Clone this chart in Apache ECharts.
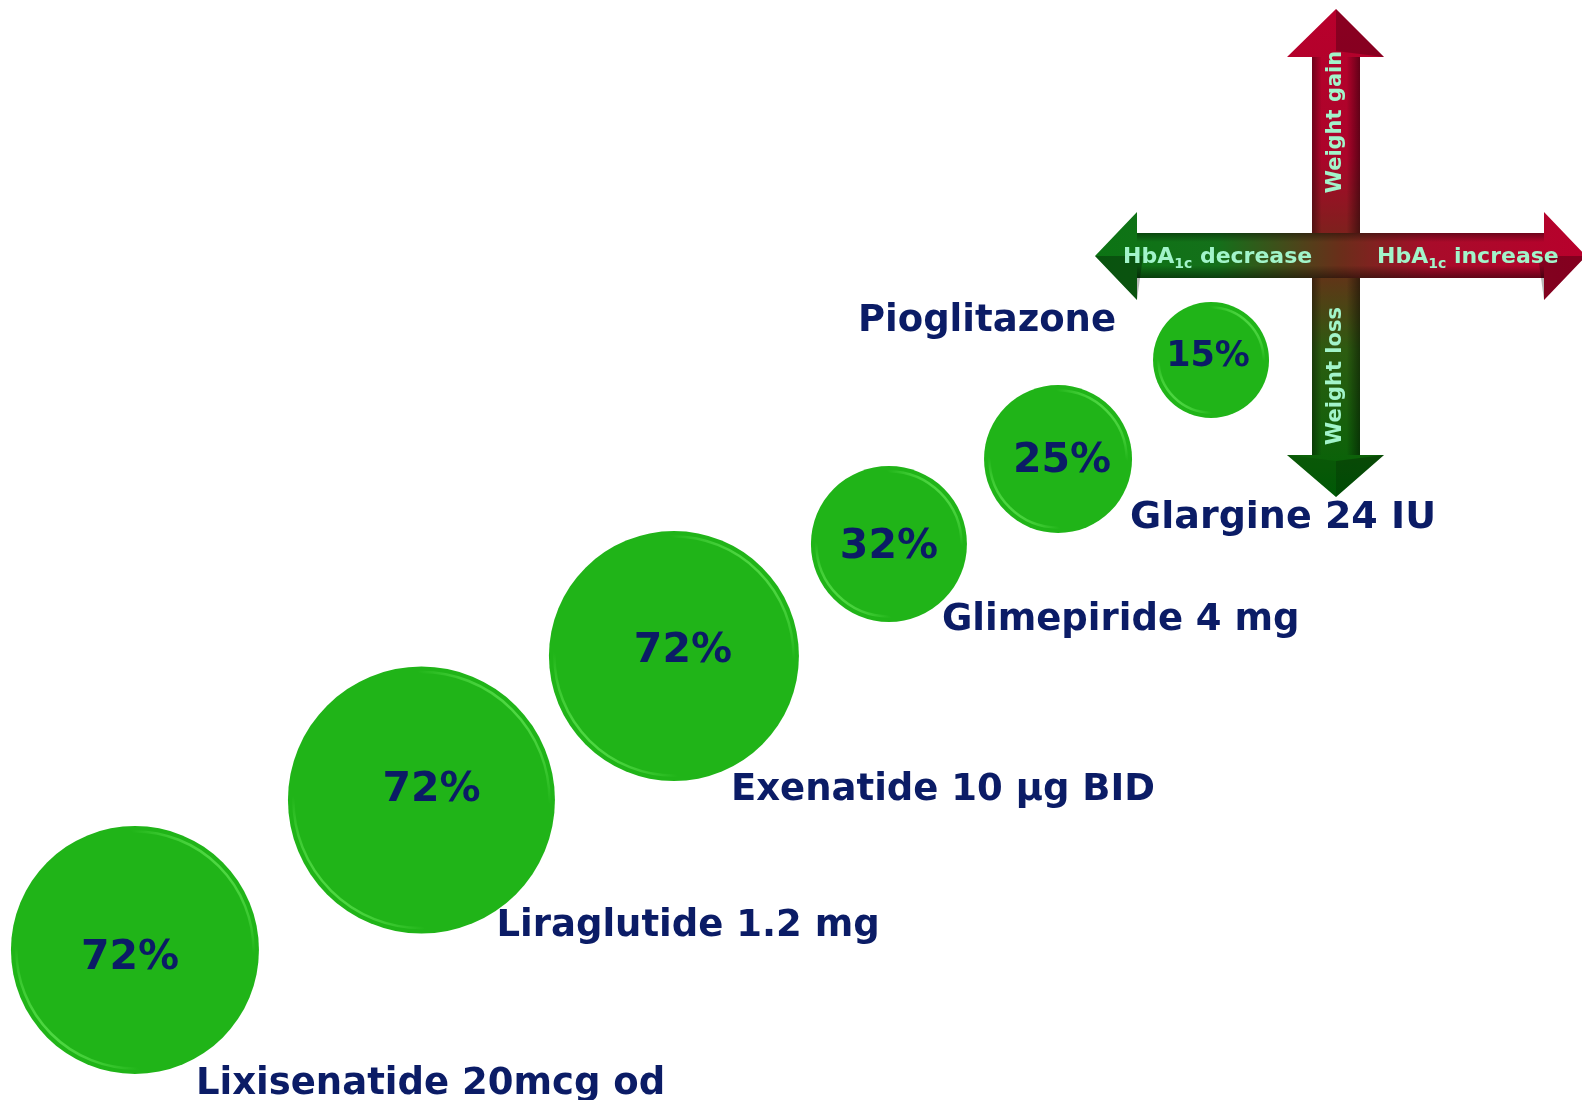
<!DOCTYPE html>
<html>
<head>
<meta charset="utf-8">
<title>Proportion of patients reaching target</title>
<script src="https://cdn.jsdelivr.net/npm/echarts@6/dist/echarts.min.js"></script>
<style>
  html, body { margin: 0; padding: 0; background: #ffffff; }
  #chart { width: 1582px; height: 1100px; }
</style>
</head>
<body>
<div id="chart"></div>
<script>
// Treatments, from largest effect (bottom-left) to smallest (top-right)
const treatments = ['Lixisenatide 20mcg od', 'Liraglutide 1.2 mg', 'Exenatide 10 µg BID',
                    'Glimepiride 4 mg', 'Glargine 24 IU', 'Pioglitazone'];
// Percentage shown inside each bubble
const percentValues = [72, 72, 72, 32, 25, 15];
// Bubble placement along the diagonal (axis units, 0-100)
const xPosition = [8.53, 26.64, 42.60, 56.19, 66.88, 76.55];
const yPosition = [13.64, 27.27, 40.36, 50.55, 58.27, 67.27];
// Bubble diameters
const bubbleSize = [248, 267, 250, 156, 148, 116];

// Label placement (pixels relative to bubble centre) and text sizes
const nameOffset = [[61, 134], [75, 126], [57, 134], [53, 76], [72, 59], [-95, -39]];
const nameAlign  = ['left', 'left', 'left', 'left', 'left', 'right'];
const nameFont   = [37, 37, 37, 37, 38, 37];
const pctOffset  = [[-5, 8], [10, -10], [9, -5], [0, 3], [4, 2], [-3, -3]];
const pctFont    = [41, 41, 41, 41, 41, 35];

const NAVY = '#0b1c66';
const MINT = '#a2f4ca';
const FONT = '"DejaVu Sans", Verdana, sans-serif';

// light bevel highlight on the upper-right and lower-left of each bubble
const rimStroke = {
  type: 'linear', x: 1, y: 0, x2: 0, y2: 1,
  colorStops: [
    { offset: 0.1, color: 'rgba(110,240,95,0.85)' },
    { offset: 0.26, color: 'rgba(110,240,95,0)' },
    { offset: 0.74, color: 'rgba(110,240,95,0)' },
    { offset: 0.9, color: 'rgba(110,240,95,0.85)' }
  ]
};

const bubbleData = treatments.map((name, i) => ({
  name: name,
  value: [xPosition[i], yPosition[i], bubbleSize[i], percentValues[i]],
  label: { offset: pctOffset[i], fontSize: pctFont[i] }
}));
const rimData = treatments.map((name, i) => ({
  name: name,
  value: [xPosition[i], yPosition[i], bubbleSize[i]]
}));
const nameData = treatments.map((name, i) => ({
  name: name,
  value: [xPosition[i], yPosition[i]],
  label: { offset: nameOffset[i], align: nameAlign[i], fontSize: nameFont[i] }
}));

// ---- Arrow cross (legend of directions) ----
const H = { tipL: 1095, baseL: 1137, baseR: 1544, tipR: 1586, cy: 256, shaftT: 233, shaftB: 278, headT: 212, headB: 300 };
const V = { tipT: 9, baseT: 57, baseB: 455, tipB: 497, cx: 1336, shaftL: 1312, shaftR: 1360, headL: 1287, headR: 1384 };

function hGrad() {
  return { type: 'linear', global: true, x: H.tipL, y: 0, x2: H.tipR, y2: 0,
    colorStops: [
      { offset: 0, color: '#0c7414' }, { offset: 0.25, color: '#14701a' },
      { offset: 0.5, color: '#6a2e1a' }, { offset: 0.68, color: '#a80c2a' },
      { offset: 1, color: '#b8002c' }
    ] };
}
function vGrad() {
  return { type: 'linear', global: true, x: 0, y: V.tipT, x2: 0, y2: V.tipB,
    colorStops: [
      { offset: 0, color: '#b8002c' }, { offset: 0.3, color: '#ac042a' },
      { offset: 0.5, color: '#72281a' }, { offset: 0.7, color: '#2c5c10' },
      { offset: 1, color: '#006406' }
    ] };
}
function edgeShade(horizontal, a, b) {
  return { type: 'linear', global: true,
    x: horizontal ? 0 : a, y: horizontal ? a : 0, x2: horizontal ? 0 : b, y2: horizontal ? b : 0,
    colorStops: [
      { offset: 0, color: 'rgba(0,0,0,0.38)' }, { offset: 0.2, color: 'rgba(0,0,0,0)' },
      { offset: 0.72, color: 'rgba(0,0,0,0)' }, { offset: 1, color: 'rgba(0,0,0,0.45)' }
    ] };
}

const captionRich = {
  a: { fill: MINT, fontSize: 22, fontWeight: 'bold', fontFamily: FONT, lineHeight: 28, verticalAlign: 'middle' },
  s: { fill: MINT, fontSize: 14, fontWeight: 'bold', fontFamily: FONT, lineHeight: 28, verticalAlign: 'bottom' }
};

const arrowGraphics = [
  // vertical arrow
  { type: 'polygon', z: 10, silent: true,
    shape: { points: [[V.cx, V.tipT], [V.headR, V.baseT], [V.shaftR, V.baseT], [V.shaftR, V.baseB],
                      [V.headR, V.baseB], [V.cx, V.tipB], [V.headL, V.baseB], [V.shaftL, V.baseB],
                      [V.shaftL, V.baseT], [V.headL, V.baseT]] },
    style: { fill: vGrad() } },
  { type: 'rect', z: 11, silent: true,
    shape: { x: V.shaftL, y: V.baseT, width: V.shaftR - V.shaftL, height: V.baseB - V.baseT },
    style: { fill: edgeShade(false, V.shaftL, V.shaftR) } },
  // head facets (darker right-hand side)
  { type: 'polygon', z: 11, silent: true,
    shape: { points: [[V.cx, V.tipT], [V.headR, V.baseT], [V.cx, V.baseT - 6]] },
    style: { fill: 'rgba(0,0,0,0.25)' } },
  { type: 'polygon', z: 11, silent: true,
    shape: { points: [[V.cx, V.tipB], [V.headR, V.baseB], [V.cx, V.baseB + 6]] },
    style: { fill: 'rgba(0,0,0,0.25)' } },
  { type: 'polygon', z: 11, silent: true,
    shape: { points: [[V.cx, V.tipB], [V.headL, V.baseB], [V.cx, V.baseB + 6]] },
    style: { fill: 'rgba(0,0,0,0.1)' } },

  // horizontal arrow (drawn above the vertical one)
  { type: 'polygon', z: 12, silent: true,
    shape: { points: [[H.tipL, H.cy], [H.baseL, H.headT], [H.baseL, H.shaftT], [H.baseR, H.shaftT],
                      [H.baseR, H.headT], [H.tipR, H.cy], [H.baseR, H.headB], [H.baseR, H.shaftB],
                      [H.baseL, H.shaftB], [H.baseL, H.headB]] },
    style: { fill: hGrad() } },
  { type: 'rect', z: 13, silent: true,
    shape: { x: H.baseL, y: H.shaftT, width: H.baseR - H.baseL, height: H.shaftB - H.shaftT },
    style: { fill: edgeShade(true, H.shaftT, H.shaftB) } },
  { type: 'polygon', z: 13, silent: true,
    shape: { points: [[H.tipL, H.cy], [H.baseL, H.headB], [H.baseL + 6, H.cy]] },
    style: { fill: 'rgba(0,0,0,0.28)' } },
  { type: 'polygon', z: 13, silent: true,
    shape: { points: [[H.tipR, H.cy], [H.baseR, H.headB], [H.baseR - 6, H.cy]] },
    style: { fill: 'rgba(0,0,0,0.28)' } },

  // arrow captions
  { type: 'text', z: 20, silent: true, x: 1123, y: 257,
    style: { text: '{a|HbA}{s|1c}{a| decrease}', align: 'left', verticalAlign: 'middle', rich: captionRich } },
  { type: 'text', z: 20, silent: true, x: 1377, y: 257,
    style: { text: '{a|HbA}{s|1c}{a| increase}', align: 'left', verticalAlign: 'middle', rich: captionRich } },
  { type: 'text', z: 20, silent: true, x: 1336, y: 122, rotation: Math.PI / 2,
    style: { text: 'Weight gain', x: 0, y: 0, align: 'center', verticalAlign: 'middle',
             fill: MINT, fontSize: 21, fontWeight: 'bold', fontFamily: FONT } },
  { type: 'text', z: 20, silent: true, x: 1336, y: 376, rotation: Math.PI / 2,
    style: { text: 'Weight loss', x: 0, y: 0, align: 'center', verticalAlign: 'middle',
             fill: MINT, fontSize: 21, fontWeight: 'bold', fontFamily: FONT } }
];

const chart = echarts.init(document.getElementById('chart'), null, { renderer: 'canvas' });
chart.setOption({
  animation: false,
  backgroundColor: '#ffffff',
  grid: { left: 0, right: 0, top: 0, bottom: 0 },
  xAxis: { type: 'value', min: 0, max: 100, show: false },
  yAxis: { type: 'value', min: 0, max: 100, show: false },
  graphic: arrowGraphics,
  series: [
    {
      name: 'bubbles', type: 'scatter', z: 2,
      symbol: 'circle',
      symbolSize: v => v[2],
      itemStyle: { color: '#20b418', opacity: 1 },
      label: {
        show: true, position: 'inside',
        formatter: p => p.value[3] + '%',
        color: NAVY, fontWeight: 'bold', fontFamily: FONT, fontSize: 41, opacity: 1
      },
      emphasis: { disabled: true },
      data: bubbleData
    },
    {
      name: 'rim', type: 'scatter', z: 3, silent: true,
      symbol: 'circle',
      symbolSize: v => v[2] - 11,
      itemStyle: { color: 'rgba(0,0,0,0)', borderColor: rimStroke, borderWidth: 2.5, opacity: 1 },
      label: { show: false },
      emphasis: { disabled: true },
      data: rimData
    },
    {
      name: 'names', type: 'scatter', z: 4, silent: true,
      symbolSize: 1,
      itemStyle: { color: 'rgba(0,0,0,0)', opacity: 1 },
      label: {
        show: true, position: 'inside', verticalAlign: 'middle', opacity: 1,
        formatter: p => p.name,
        color: NAVY, fontWeight: 'bold', fontFamily: FONT, fontSize: 37
      },
      emphasis: { disabled: true },
      data: nameData
    }
  ]
});
</script>
</body>
</html>
